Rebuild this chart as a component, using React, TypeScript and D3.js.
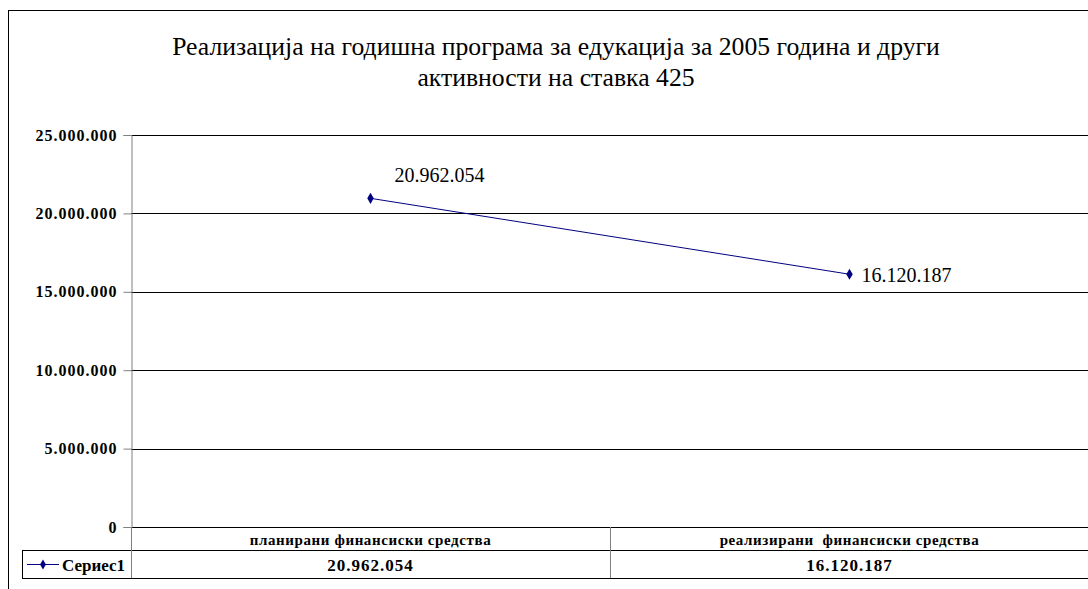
import React, { useRef, useEffect } from 'react';
import * as d3 from 'd3';

const TITLE_LINES = [
  'Реализација на годишна програма за едукација за 2005 година и други',
  'активности на ставка 425',
];
const CATEGORIES = ['планирани финансиски средства', 'реализирани  финансиски средства'];
const SERIES_NAME = 'Сериес1';
const VALUES = [20962054, 16120187];
const Y_TICKS = [0, 5000000, 10000000, 15000000, 20000000, 25000000];

const fmt = (v: number) => d3.format(',')(v).replace(/,/g, '.');
const FONT = "'Liberation Serif', serif";

export default function App() {
  const ref = useRef<SVGSVGElement | null>(null);

  useEffect(() => {
    const svg = d3.select(ref.current);
    svg.selectAll('*').remove();

    const W = 1088, H = 589;
    const left = 131, right = 1089, top = 135, bottom = 527;
    const row1 = 550, row2 = 578, legendLeft = 22;

    svg.attr('width', W).attr('height', H);

    svg.append('rect').attr('width', W).attr('height', H).attr('fill', '#fff');

    // chart frame
    svg.append('rect')
      .attr('x', 8.5).attr('y', 10.5)
      .attr('width', W + 20).attr('height', H + 20)
      .attr('fill', 'none').attr('stroke', '#000').attr('stroke-width', 1);

    // title
    TITLE_LINES.forEach((t, i) => {
      svg.append('text')
        .attr('x', 556).attr('y', 55 + i * 31)
        .attr('text-anchor', 'middle')
        .style('font-family', FONT)
        .style('font-size', '25.7px')
        .attr('fill', '#000')
        .text(t);
    });

    const x = d3.scaleBand().domain(CATEGORIES).range([left, right]);
    const y = d3.scaleLinear().domain([0, 25000000]).range([bottom, top]);

    // grid lines
    svg.append('g')
      .selectAll('line')
      .data(Y_TICKS)
      .join('line')
      .attr('x1', left).attr('x2', right)
      .attr('y1', d => Math.round(y(d)) + 0.5).attr('y2', d => Math.round(y(d)) + 0.5)
      .attr('stroke', '#000');

    // y axis
    const yAxis = svg.append('g')
      .attr('transform', `translate(${left + 0.5},0)`)
      .call(d3.axisLeft(y).tickValues(Y_TICKS).tickSize(8).tickPadding(6).tickFormat(d => fmt(+d)));
    yAxis.select('.domain').attr('stroke', '#808080');
    yAxis.selectAll('.tick line').attr('stroke', '#808080');
    yAxis.selectAll('.tick text')
      .style('font-family', FONT).style('font-size', '16px').style('font-weight', 'bold')
      .style('letter-spacing', '1px').attr('fill', '#000');

    // data table
    const tbl = svg.append('g').attr('stroke', '#000').attr('fill', 'none');
    tbl.append('line').attr('x1', legendLeft).attr('x2', right).attr('y1', row1 + 0.5).attr('y2', row1 + 0.5);
    tbl.append('line').attr('x1', legendLeft).attr('x2', right).attr('y1', row2 + 0.5).attr('y2', row2 + 0.5);
    tbl.append('line').attr('x1', legendLeft + 0.5).attr('x2', legendLeft + 0.5).attr('y1', row1).attr('y2', row2);
    tbl.append('line').attr('x1', left + 0.5).attr('x2', left + 0.5).attr('y1', bottom).attr('y2', row2).attr('stroke', '#808080');
    CATEGORIES.slice(1).forEach(c => {
      tbl.append('line')
        .attr('x1', x(c)! + 0.5).attr('x2', x(c)! + 0.5)
        .attr('y1', bottom).attr('y2', row2).attr('stroke', '#808080');
    });

    svg.append('g')
      .selectAll('text')
      .data(CATEGORIES)
      .join('text')
      .attr('x', d => x(d)! + x.bandwidth() / 2)
      .attr('y', 545)
      .attr('text-anchor', 'middle')
      .style('font-family', FONT)
      .style('font-size', '15px').style('font-weight', 'bold')
      .style('letter-spacing', '0.6px')
      .style('white-space', 'pre')
      .text(d => d);

    svg.append('g')
      .selectAll('text')
      .data(VALUES)
      .join('text')
      .attr('x', (_, i) => x(CATEGORIES[i])! + x.bandwidth() / 2)
      .attr('y', 571)
      .attr('text-anchor', 'middle')
      .style('font-family', FONT)
      .style('font-size', '17px').style('font-weight', 'bold')
      .style('letter-spacing', '1px')
      .text(d => fmt(d));

    // legend key
    const ly = 564.5;
    svg.append('line').attr('x1', 27).attr('x2', 59).attr('y1', ly).attr('y2', ly).attr('stroke', '#000080');
    svg.append('path')
      .attr('d', d3.symbol(d3.symbolDiamond, 30)())
      .attr('transform', `translate(43,${ly})`)
      .attr('fill', '#000080');
    svg.append('text')
      .attr('x', 62).attr('y', 571)
      .style('font-family', FONT)
      .style('font-size', '17px').style('font-weight', 'bold')
      .text(SERIES_NAME);

    // series line
    const pts = VALUES.map((v, i) => [x(CATEGORIES[i])! + x.bandwidth() / 2, y(v)] as [number, number]);
    svg.append('path')
      .attr('d', d3.line()(pts))
      .attr('fill', 'none')
      .attr('stroke', '#000080')
      .attr('stroke-width', 1);
    svg.append('g')
      .selectAll('path')
      .data(pts)
      .join('path')
      .attr('d', d3.symbol(d3.symbolDiamond, 36)())
      .attr('transform', d => `translate(${d[0]},${d[1]})`)
      .attr('fill', '#000080');

    // data labels
    const offsets = [[24, -16], [12, 8]];
    svg.append('g')
      .selectAll('text')
      .data(VALUES)
      .join('text')
      .attr('x', (_, i) => pts[i][0] + offsets[i][0])
      .attr('y', (_, i) => pts[i][1] + offsets[i][1])
      .style('font-family', FONT)
      .style('font-size', '20px')
      .attr('fill', '#000')
      .text(d => fmt(d));
  }, []);

  return <svg ref={ref} style={{ position: 'absolute', left: 0, top: 0 }} />;
}
